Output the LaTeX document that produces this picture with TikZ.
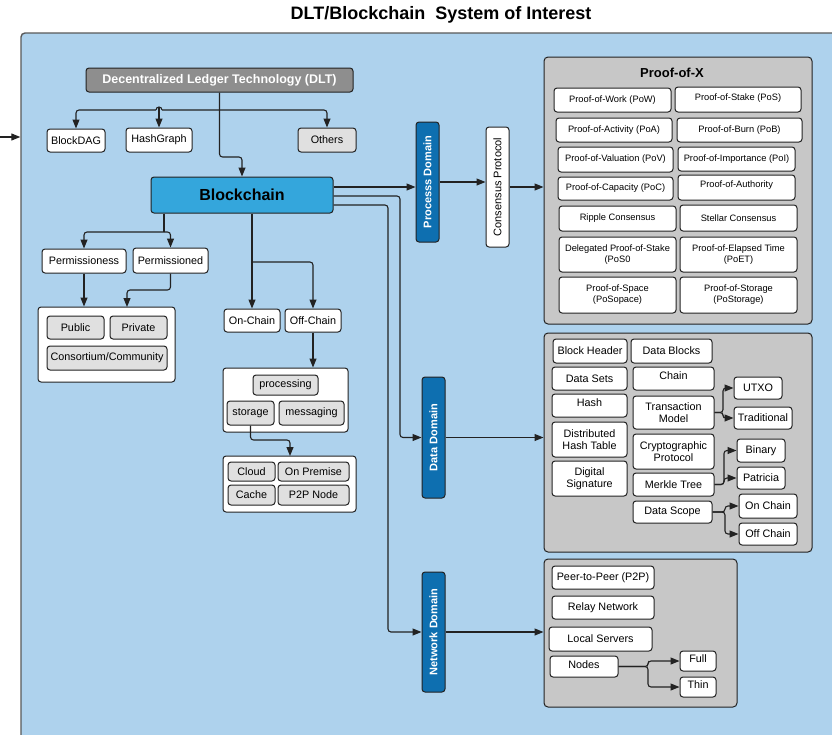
\documentclass[tikz,border=0pt]{standalone}
\usepackage{fontspec}
\setmainfont{Liberation Sans}
\usetikzlibrary{arrows.meta,calc}
\definecolor{bgblue}{RGB}{174,210,237}
\definecolor{panelgrey}{RGB}{199,199,199}
\definecolor{lgrey}{RGB}{224,224,224}
\definecolor{dltgrey}{RGB}{142,142,142}
\definecolor{bcblue}{RGB}{52,166,220}
\definecolor{domblue}{RGB}{14,111,176}
\definecolor{edge}{RGB}{34,34,34}
\newcommand{\bx}[7]{\node[#6, minimum width={(#4)-(#2)}, minimum height={(#5)-(#3)}] (#1) at ({((#2)+(#4))/2},{((#3)+(#5))/2}) {#7};}
\tikzset{
  base/.style={draw=edge, line width=1pt, rounded corners=3pt, inner sep=1pt, align=center,
    font=\fontsize{10.8}{12.5}\selectfont, text=black},
  wbox/.style={base, fill=white},
  gbox/.style={base, fill=lgrey},
  grp/.style={base, fill=white},
  panel/.style={base, fill=panelgrey, rounded corners=4pt},
  pbox/.style={wbox, font=\fontsize{9.3}{11}\selectfont},
  dom/.style={base, fill=domblue},
  domtext/.style={rotate=90, text=white, font=\bfseries\fontsize{11}{12}\selectfont},
  conn/.style={draw=edge, line width=1.1pt, rounded corners=3pt},
  arr/.style={conn, -{Triangle[length=9pt,width=7pt]}}
}
\begin{document}
\begin{tikzpicture}[x=1pt,y=-1pt]
\useasboundingbox (0,0) rectangle (832,734);
% title
\node[font=\bfseries\fontsize{18}{20}\selectfont] (title) at (441,15) {DLT/Blockchain\ \ System of Interest};
% system box
\bx{sys}{21}{33}{860}{760}{base, fill=bgblue, draw=black!65, line width=1.4pt, rounded corners=4pt}{}
\coordinate (inp) at (0,137);
\draw[arr] (inp) -- (inp -| sys.west);

% DLT and children
\bx{dlt}{86}{68}{353}{92}{base, fill=dltgrey, text=white, font=\bfseries\fontsize{12.5}{14}\selectfont}{Decentralized Ledger Technology (DLT)}
\bx{bdag}{47}{129}{105}{152}{wbox}{BlockDAG}
\bx{hg}{126}{128}{192}{152}{wbox}{HashGraph}
\bx{oth}{298}{128}{356}{152}{gbox}{Others}
\bx{bc}{151}{177}{333}{213}{base, fill=bcblue, font=\bfseries\fontsize{16}{18}\selectfont}{Blockchain}

\coordinate (j1) at (219.5,110);
\draw[arr] (dlt.south) -- (219.5,157) -- (bc.north |- 0,157) -- (bc.north);
\draw[arr] (j1) -| (bdag.north);
\draw[arr] (j1) -| (oth.north);
\fill[bgblue] (155.6,108.3) rectangle (162.4,111.7);
\draw[line width=1.1pt, draw=edge] (156,110) arc(180:360:3);
\draw[arr] ($(hg.north |- j1)+(0,-3)$) -- (hg.north);

% permission
\bx{pless}{42}{249}{126}{273}{wbox}{Permissioness}
\bx{pned}{133}{248}{208}{273}{wbox}{Permissioned}
\bx{g1}{38}{307}{175}{382}{grp}{}
\bx{pub}{47}{316}{104}{339}{gbox}{Public}
\bx{priv}{110}{316}{167}{339}{gbox}{Private}
\bx{cons}{47}{346}{167}{370}{gbox}{Consortium/Community}
\coordinate (j2) at (164,232);
\draw[conn] (bc.south -| j2) -- (j2);
\draw[arr] (j2) -| (pless.north);
\draw[arr] (j2) -| (pned.north);
\draw[arr] (pless.south) -- (pless.south |- g1.north);
\coordinate (g1in) at (127,307);
\draw[arr] (pned.south) |- (127,290) -- (g1in);

% on/off chain
\bx{onc}{224}{309}{280}{332}{wbox}{On-Chain}
\bx{offc}{285}{309}{341}{332}{wbox}{Off-Chain}
\bx{g2}{223}{368}{348}{432}{grp}{}
\bx{proc}{253}{375}{318}{395}{gbox}{processing}
\bx{stor}{227}{401}{274}{425}{gbox}{storage}
\bx{msg}{279}{401}{344}{425}{gbox}{messaging}
\bx{g3}{223}{456}{356}{512}{grp}{}
\bx{cloud}{228}{462}{275}{481}{gbox}{Cloud}
\bx{prem}{278}{462}{349}{481}{gbox}{On Premise}
\bx{cache}{228}{485}{275}{505}{gbox}{Cache}
\bx{p2pn}{278}{485}{349}{505}{gbox}{P2P Node}
\coordinate (j3) at (252,262);
\draw[conn] (bc.south -| j3) -- (j3);
\draw[arr] (j3) -- (onc.north);
\draw[arr] (j3) -| (offc.north);
\draw[arr] (offc.south) -- (offc.south |- g2.north);
\coordinate (g3in) at (290,456);
\draw[arr] (stor.south) |- (290,440) -- (g3in);

% domains
\bx{pd}{416}{122}{439}{242}{dom}{}
\node[domtext] at (pd) {Processs Domain};
\bx{cp}{486}{127}{509}{247}{wbox}{}
\node[rotate=90, font=\fontsize{11}{13}\selectfont] at (cp) {Consensus Protocol};
\bx{dd}{422}{377}{445}{498}{dom}{}
\node[domtext] at (dd) {Data Domain};
\bx{nd}{422}{572}{445}{692}{dom}{}
\node[domtext] at (nd) {Network Domain};

% proof-of-x panel
\bx{px}{544}{57}{812}{324}{panel}{}
\node[font=\bfseries\fontsize{13}{15}\selectfont] (pxt) at (672,73) {Proof-of-X};
\bx{pow}{554}{88}{671}{112}{pbox}{Proof-of-Work (PoW)}
\bx{pos}{675}{87}{801}{112}{pbox, text depth=4pt}{Proof-of-Stake (PoS)}
\bx{poa}{556}{118}{672}{142}{pbox}{Proof-of-Activity (PoA)}
\bx{pob}{677}{118}{802}{142}{pbox}{Proof-of-Burn (PoB)}
\bx{pov}{558}{147}{673}{172}{pbox}{Proof-of-Valuation (PoV)}
\bx{poi}{678}{147}{795}{171}{pbox}{Proof-of-Importance (PoI)}
\bx{poc}{558}{177}{673}{200}{pbox}{Proof-of-Capacity (PoC)}
\bx{poau}{678}{175}{795}{200}{pbox, text depth=6pt}{Proof-of-Authority}
\bx{rip}{559}{206}{676}{231}{pbox}{Ripple Consensus}
\bx{ste}{680}{205}{797}{231}{pbox}{Stellar Consensus}
\bx{dpos}{559}{237}{676}{272}{pbox}{Delegated Proof-of-Stake\\(PoS0}
\bx{poet}{680}{237}{797}{272}{pbox}{Proof-of-Elapsed Time\\(PoET)}
\bx{pospace}{559}{277}{676}{313}{pbox}{Proof-of-Space\\(PoSopace)}
\bx{postor}{680}{277}{797}{313}{pbox}{Proof-of-Storage\\(PoStorage)}

% data panel
\bx{dp}{544}{333}{812}{552}{panel}{}
\bx{bh}{553}{339}{627}{363}{wbox}{Block Header}
\bx{db}{631}{339}{712}{363}{wbox}{Data Blocks}
\bx{dsets}{552}{367}{627}{390}{wbox}{Data Sets}
\bx{chain}{633}{367}{714}{390}{wbox, text depth=5pt}{Chain}
\bx{hash}{552}{394}{627}{417}{wbox, text depth=5pt}{Hash}
\bx{tm}{633}{396}{714}{429}{wbox}{Transaction\\Model}
\bx{utxo}{734}{377}{782}{399}{wbox}{UTXO}
\bx{trad}{734}{407}{792}{429}{wbox}{Traditional}
\bx{dht}{552}{422}{627}{457}{wbox}{Distributed\\Hash Table}
\bx{crp}{633}{434}{714}{469}{wbox}{Cryptographic\\Protocol}
\bx{bin}{737}{439}{785}{462}{wbox}{Binary}
\bx{pat}{737}{467}{785}{489}{wbox}{Patricia}
\bx{dsig}{552}{461}{627}{496}{wbox}{Digital\\Signature}
\bx{mt}{633}{473}{714}{496}{wbox}{Merkle Tree}
\bx{dsc}{633}{501}{712}{523}{wbox}{Data Scope}
\bx{onch}{739}{494}{797}{518}{wbox}{On Chain}
\bx{offch}{739}{523}{797}{545}{wbox}{Off Chain}
\draw[arr] (tm.east) -- (723,412.5) |- (utxo.west);
\draw[arr] (tm.east) -- (723,412.5) |- (trad.west);
\draw[arr] (mt.east) -- (724,484.5) |- (bin.west);
\draw[arr] (mt.east) -- (724,484.5) |- (pat.west);
\draw[arr] (dsc.east) -- (725,512) |- (onch.west);
\draw[arr] (dsc.east) -- (725,512) |- (offch.west);

% network panel
\bx{np}{544}{559}{737}{707}{panel}{}
\bx{p2p}{552}{566}{654}{589}{wbox}{Peer-to-Peer (P2P)}
\bx{relay}{552}{596}{654}{619}{wbox}{Relay Network}
\bx{ls}{549}{627}{652}{651}{wbox}{Local Servers}
\bx{nodes}{550}{656}{618}{677}{wbox, text depth=4pt}{Nodes}
\bx{full}{680}{651}{716}{671}{wbox, text depth=4pt}{Full}
\bx{thin}{680}{677}{716}{697}{wbox, text depth=4pt}{Thin}
\draw[arr] (nodes.east) -- (648,666.5) |- (full.west);
\draw[arr] (nodes.east) -- (648,666.5) |- (thin.west);

% blockchain to domains
\draw[arr] ($(bc.east)+(0,-8)$) -- ($(pd.west)+(0,5)$);
\draw[arr] ($(bc.east)+(0,1)$) -| (400,437.5) -- (dd.west);
\draw[arr] ($(bc.east)+(0,10)$) -| (388,632) -- (nd.west);
\draw[arr] (pd.east) -- (pd.east -| cp.west);
\draw[arr] (cp.east) -- (cp.east -| px.west);
\draw[arr] (dd.east) -- (dd.east -| dp.west);
\draw[arr] (nd.east) -- (nd.east -| np.west);
\end{tikzpicture}
\end{document}
